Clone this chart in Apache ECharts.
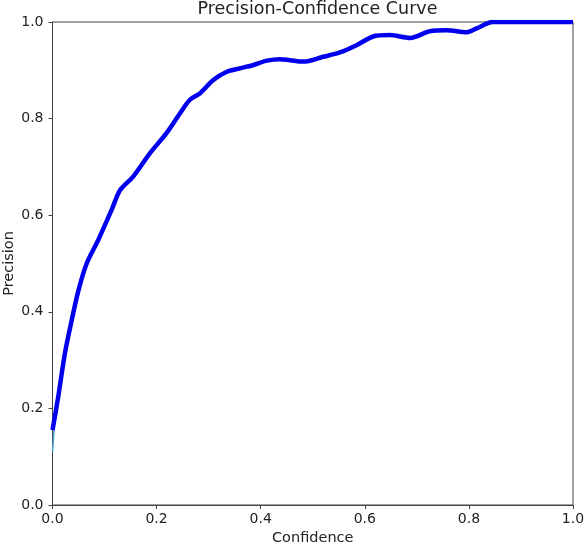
<!DOCTYPE html>
<html>
<head>
<meta charset="utf-8">
<script src="https://cdn.jsdelivr.net/npm/echarts@6/dist/echarts.min.js"></script>
<style>
  html, body { margin: 0; padding: 0; background: #fff; }
  #main { width: 585px; height: 545px; }
</style>
</head>
<body>
<div id="main"></div>
<script>
// confidence (x) and precision (y)
var confidence = [0.0, 0.011, 0.024, 0.037, 0.05, 0.066, 0.088, 0.114, 0.13, 0.155, 0.187, 0.219,
  0.245, 0.264, 0.283, 0.309, 0.335, 0.36, 0.386, 0.412, 0.437, 0.456, 0.482, 0.52, 0.552,
  0.584, 0.616, 0.648, 0.687, 0.725, 0.757, 0.796, 0.815, 0.846, 0.9, 1.0];
var precision = [0.155, 0.224, 0.315, 0.383, 0.445, 0.501, 0.549, 0.612, 0.652, 0.68, 0.728, 0.77,
  0.811, 0.839, 0.852, 0.88, 0.897, 0.904, 0.911, 0.92, 0.923, 0.921, 0.918, 0.928, 0.937,
  0.952, 0.97, 0.973, 0.967, 0.981, 0.983, 0.979, 0.987, 1.0, 1.0, 1.0];
// raw curve (thin line under the thick one), only the start differs visibly
var rawConfidence = [0.0, 0.004, 0.011];
var rawPrecision = [0.11, 0.17, 0.224];

var smoothPts = confidence.map(function (c, i) { return [c, precision[i]]; });
var rawPts = rawConfidence.map(function (c, i) { return [c, rawPrecision[i]]; })
  .concat(smoothPts.slice(2));

var myChart = echarts.init(document.getElementById('main'));
var font = 'DejaVu Sans';
var txt = '#222';
var axisCol = '#444';
myChart.setOption({
  animation: false,
  title: {
    text: 'Precision-Confidence Curve',
    left: 312.5, top: -5, textAlign: 'center',
    textStyle: { fontFamily: font, fontSize: 17.5, fontWeight: 'normal', color: txt }
  },
  grid: {
    left: 52.5, right: 12, top: 22, bottom: 40,
    outerBoundsMode: 'none', containLabel: false,
    show: true, borderColor: axisCol, borderWidth: 1
  },
  xAxis: {
    type: 'value', min: 0, max: 1, interval: 0.2,
    name: 'Confidence', nameLocation: 'middle', nameGap: 26, nameMoveOverlap: false,
    nameTextStyle: { fontFamily: font, fontSize: 14.5, color: txt },
    axisLine: { lineStyle: { color: axisCol } },
    axisTick: { show: true, length: 4, lineStyle: { color: axisCol } },
    axisLabel: { fontFamily: font, fontSize: 14, color: txt, margin: 7,
      formatter: function (v) { return v.toFixed(1); } },
    splitLine: { show: false }
  },
  yAxis: {
    type: 'value', min: 0, max: 1, interval: 0.2,
    name: 'Precision', nameLocation: 'middle', nameGap: 36, nameMoveOverlap: false,
    nameTextStyle: { fontFamily: font, fontSize: 14.5, color: txt },
    axisLine: { show: true, lineStyle: { color: axisCol } },
    axisTick: { show: true, length: 4, lineStyle: { color: axisCol } },
    axisLabel: { fontFamily: font, fontSize: 14, color: txt, margin: 9,
      formatter: function (v) { return v.toFixed(1); } },
    splitLine: { show: false }
  },
  series: [
    {
      type: 'line', data: rawPts, showSymbol: false, smooth: false,
      lineStyle: { color: '#4a9fd5', width: 1.5 }, z: 2
    },
    {
      type: 'line', data: smoothPts, showSymbol: false, smooth: 0.3,
      lineStyle: { color: '#0000ee', width: 4.5 }, z: 3
    }
  ]
});
</script>
</body>
</html>
